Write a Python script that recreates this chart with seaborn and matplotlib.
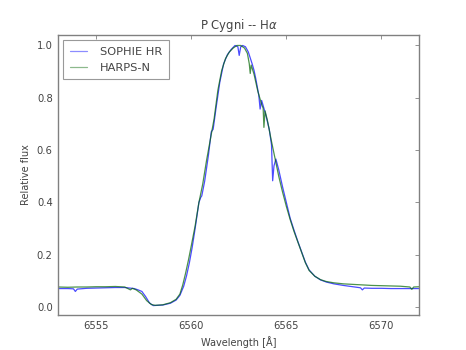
import matplotlib
matplotlib.use("Agg")
import matplotlib.pyplot as plt
import seaborn as sns
import pandas as pd

# H-alpha profile of P Cygni, two spectrographs (wavelength in Angstrom, normalised flux)
sophie_wave = [6553.0, 6553.5, 6553.8, 6553.9, 6554.0, 6554.5, 6555.0, 6555.5, 6556.0, 6556.5,
               6557.0, 6557.2, 6557.4, 6557.6, 6557.8, 6558.0, 6558.5, 6558.9, 6559.2, 6559.4,
               6559.6, 6559.75, 6559.9, 6560.05, 6560.2, 6560.4, 6560.5, 6560.55, 6560.7, 6560.9,
               6561.05, 6561.15, 6561.3, 6561.5, 6561.7, 6561.9, 6562.1, 6562.3, 6562.45, 6562.52,
               6562.6, 6562.7, 6562.85, 6563.0, 6563.2, 6563.3, 6563.4, 6563.55, 6563.62, 6563.7,
               6563.9, 6564.1, 6564.22, 6564.28, 6564.35, 6564.45, 6564.6, 6564.8, 6565.0, 6565.2,
               6565.4, 6565.6, 6565.8, 6566.0, 6566.2, 6566.5, 6566.8, 6567.1, 6567.5, 6568.0,
               6568.5, 6568.9, 6569.0, 6569.1, 6569.5, 6570.0, 6570.5, 6571.0, 6571.5, 6572.0]
sophie_flux = [0.071, 0.071, 0.070, 0.060, 0.069, 0.072, 0.073, 0.074, 0.075, 0.075,
               0.071, 0.066, 0.060, 0.040, 0.016, 0.006, 0.008, 0.015, 0.027, 0.045,
               0.080, 0.120, 0.170, 0.230, 0.300, 0.400, 0.420, 0.425, 0.480, 0.580,
               0.670, 0.680, 0.760, 0.860, 0.930, 0.965, 0.985, 1.000, 0.995, 0.962,
               0.995, 1.000, 0.995, 0.975, 0.930, 0.905, 0.870, 0.810, 0.757, 0.790,
               0.740, 0.680, 0.620, 0.483, 0.540, 0.566, 0.525, 0.460, 0.400, 0.340,
               0.295, 0.252, 0.212, 0.172, 0.142, 0.118, 0.104, 0.096, 0.089, 0.083,
               0.078, 0.074, 0.066, 0.073, 0.072, 0.072, 0.071, 0.071, 0.071, 0.071]

harps_wave = [6553.0, 6553.5, 6554.0, 6554.5, 6555.0, 6555.5, 6556.0, 6556.5, 6556.8, 6556.9,
              6557.1, 6557.4, 6557.65, 6557.9, 6558.1, 6558.5, 6558.9, 6559.2, 6559.4, 6559.55,
              6559.7, 6559.85, 6560.0, 6560.2, 6560.4, 6560.6, 6560.8, 6561.0, 6561.2, 6561.4,
              6561.6, 6561.8, 6562.0, 6562.2, 6562.4, 6562.6, 6562.8, 6562.95, 6563.05, 6563.1,
              6563.15, 6563.3, 6563.5, 6563.7, 6563.78, 6563.82, 6563.88, 6564.0, 6564.2, 6564.4,
              6564.6, 6564.8, 6565.0, 6565.2, 6565.4, 6565.6, 6565.8, 6566.0, 6566.2, 6566.5,
              6566.8, 6567.1, 6567.5, 6568.0, 6568.5, 6569.0, 6569.5, 6570.0, 6570.5, 6571.0,
              6571.5, 6571.6, 6571.7, 6572.0]
harps_flux = [0.077, 0.076, 0.077, 0.077, 0.078, 0.078, 0.079, 0.077, 0.066, 0.072,
              0.066, 0.050, 0.025, 0.010, 0.007, 0.009, 0.017, 0.030, 0.050, 0.085,
              0.130, 0.180, 0.235, 0.310, 0.400, 0.470, 0.560, 0.640, 0.720, 0.830,
              0.905, 0.950, 0.975, 0.990, 1.000, 1.000, 0.990, 0.970, 0.930, 0.893,
              0.925, 0.890, 0.825, 0.775, 0.760, 0.687, 0.750, 0.715, 0.640, 0.570,
              0.500, 0.440, 0.385, 0.335, 0.290, 0.250, 0.210, 0.170, 0.140, 0.118,
              0.105, 0.098, 0.093, 0.089, 0.087, 0.085, 0.083, 0.082, 0.081, 0.080,
              0.077, 0.068, 0.077, 0.078]

sophie = pd.DataFrame({"wave": sophie_wave, "flux": sophie_flux})
harps = pd.DataFrame({"wave": harps_wave, "flux": harps_flux})

sns.set_style("white")
plt.rcParams["font.family"] = ["DejaVu Sans"]

fig = plt.figure(figsize=(4.66, 3.5), dpi=100)
ax = fig.add_axes([0.125, 0.1, 0.775, 0.8])

sns.lineplot(data=sophie, x="wave", y="flux", ax=ax, color="#0000ff", lw=0.9, alpha=0.7,
             label="SOPHIE HR", sort=False, estimator=None)
sns.lineplot(data=harps, x="wave", y="flux", ax=ax, color="#006400", lw=0.9, alpha=0.7,
             label="HARPS-N", sort=False, estimator=None)

ax.set_xlim(6553, 6572)
ax.set_ylim(-0.03, 1.04)
ax.set_xticks([6555, 6560, 6565, 6570])
ax.set_yticks([0.0, 0.2, 0.4, 0.6, 0.8, 1.0])
ax.set_yticklabels(["0.0", "0.2", "0.4", "0.6", "0.8", "1.0"])

text_color = "#444444"
for s in ax.spines.values():
    s.set_color("#808080")
    s.set_linewidth(1.0)
ax.tick_params(direction="in", length=3, width=0.6, color="#808080", labelsize=7.2,
               labelcolor=text_color, top=True, right=True, pad=4)

ax.set_xlabel("Wavelength [Å]", fontsize=7, color=text_color)
ax.set_ylabel("Relative flux", fontsize=7, color=text_color)
ax.set_title(r"P Cygni -- H$\alpha$", fontsize=8.4, color=text_color, pad=4)

leg = ax.legend(loc="upper left", fontsize=8.2, frameon=True, fancybox=False,
                handlelength=1.5, borderpad=0.6, labelspacing=0.5, handletextpad=1.1,
                borderaxespad=0.45)
leg.get_frame().set_edgecolor("#808080")
leg.get_frame().set_linewidth(0.8)
for t in leg.get_texts():
    t.set_color(text_color)
for h in leg.get_lines():
    h.set_alpha(0.45)

fig.savefig("out.png", dpi=100)
